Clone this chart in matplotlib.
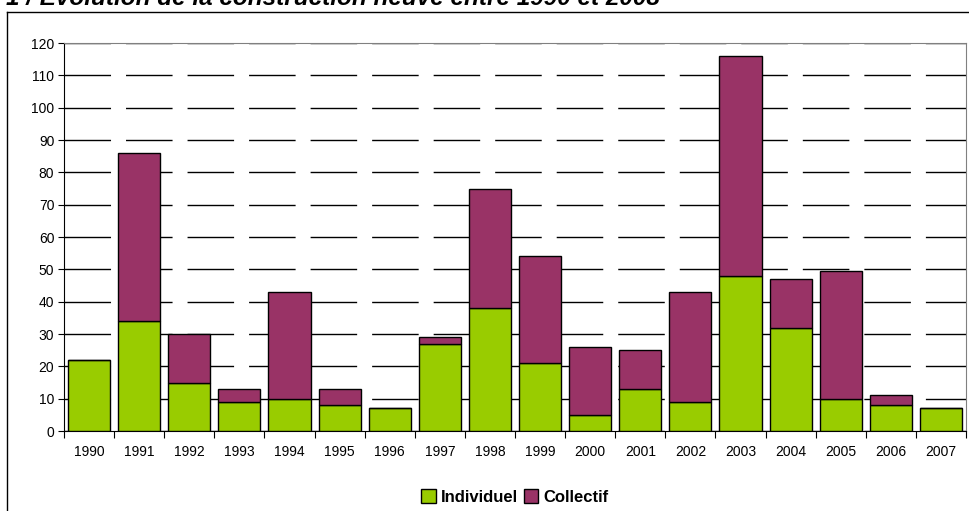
import matplotlib.pyplot as plt
from matplotlib.lines import Line2D
from matplotlib.patches import Patch
import numpy as np

plt.rcParams['font.family'] = ['Liberation Sans', 'DejaVu Sans']

annees = ['1990', '1991', '1992', '1993', '1994', '1995', '1996', '1997', '1998',
          '1999', '2000', '2001', '2002', '2003', '2004', '2005', '2006', '2007']
individuel = [22, 34, 15, 9, 10, 8, 7, 27, 38, 21, 5, 13, 9, 48, 32, 10, 8, 7]
collectif = [0, 52, 15, 4, 33, 5, 0, 2, 37, 33, 21, 12, 34, 68, 15, 39.5, 3, 0]

vert = '#99CC00'
violet = '#993366'

fig = plt.figure(figsize=(9.7, 5.11), dpi=100)
W, H = 970.0, 511.0
ax = fig.add_axes([64 / W, 1 - 431 / H, (966 - 64) / W, (431 - 43) / H])

x = np.arange(len(annees))
ax.bar(x, individuel, width=0.84, color=vert, edgecolor='black', linewidth=1, zorder=3)
ax.bar(x, collectif, width=0.84, bottom=individuel, color=violet,
       edgecolor='black', linewidth=1, zorder=3)

ax.set_xlim(-0.5, len(annees) - 0.5)
ax.set_ylim(0, 120)
ax.set_yticks(np.arange(0, 121, 10))
ax.yaxis.grid(True, color='black', linewidth=1, linestyle=(0, (33.5, 10.8)), zorder=1)
ax.set_axisbelow(True)

# ticks between the categories, labels in the middle
ax.set_xticks(np.arange(-0.5, len(annees), 1))
ax.set_xticklabels([])
ax.set_xticks(x, minor=True)
ax.set_xticklabels(annees, minor=True)
ax.tick_params(axis='x', which='major', length=5, direction='out', color='black')
ax.tick_params(axis='x', which='minor', length=0, pad=10, labelsize=10)
ax.tick_params(axis='y', length=4, direction='out', labelsize=10, pad=3)

ax.spines['left'].set_color('black')
ax.spines['bottom'].set_color('black')
ax.spines['top'].set_color('#808080')
ax.spines['right'].set_color('#808080')

handles = [Patch(facecolor=vert, edgecolor='black', label='Individuel'),
           Patch(facecolor=violet, edgecolor='black', label='Collectif')]
fig.legend(handles=handles, loc='center', bbox_to_anchor=(515 / W, 1 - 497 / H),
           ncol=2, frameon=False, prop={'weight': 'bold', 'size': 12},
           handlelength=0.85, handleheight=0.85, handletextpad=0.3, columnspacing=0.4)

# outer frame (cut by the picture edges)
fig.add_artist(Line2D([7 / W, 7 / W], [1 - 12 / H, -0.1], color='black', linewidth=1))
fig.add_artist(Line2D([7 / W, 1.1], [1 - 12 / H, 1 - 12 / H], color='black', linewidth=1))

# title, cut at the top as in the original capture
fig.text(6 / W, 1 - 5 / H, '1 / Evolution de la construction neuve entre 1990 et 2008',
         fontsize=17.5, fontweight='bold', fontstyle='italic', va='baseline', ha='left')

fig.savefig('out.png', dpi=100)
